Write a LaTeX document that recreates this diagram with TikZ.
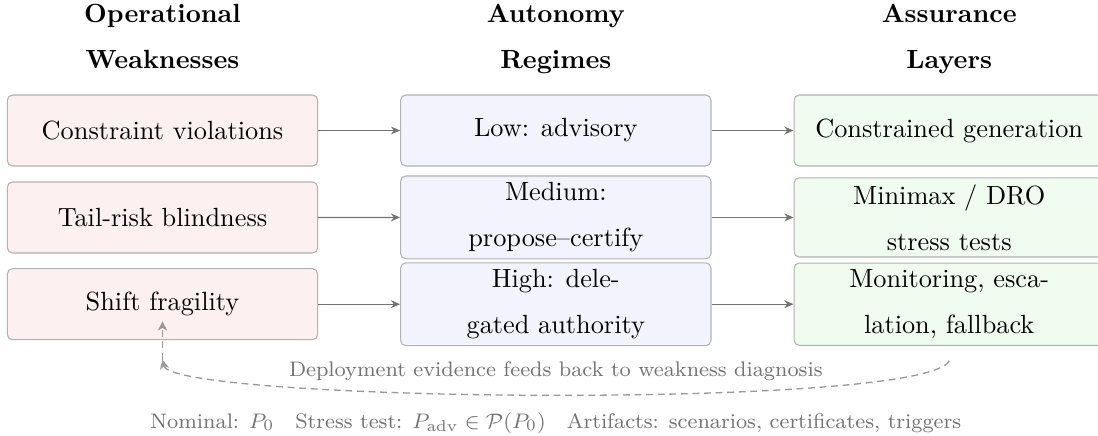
\documentclass[tikz,border=0pt]{standalone}
\usepackage{amsmath}
\usepackage{amssymb}
\usepackage{tikz}
\usetikzlibrary{arrows.meta}
\definecolor{weakfill}{RGB}{253,240,240}
\definecolor{regimefill}{RGB}{243,243,253}
\definecolor{layerfill}{RGB}{241,252,240}

\begin{document}
\begin{tikzpicture}[x=0.3802pt,y=-0.3802pt,
        box/.style={draw=black!30,rounded corners=2pt,minimum width=118pt,minimum height=27pt,inner ysep=2.5pt,align=center,font=\fontsize{10}{17.5}\selectfont},
        head/.style={align=center,text depth=1.94pt,font=\fontsize{10}{17.5}\selectfont\bfseries},
        link/.style={draw=black!55,line width=0.5pt,-{Stealth[length=3.5pt,width=3pt]}},
        feedback/.style={draw=black!40,line width=0.5pt,dash pattern=on 2.6pt off 1.8pt,-{Stealth[length=3.5pt,width=3.5pt,inset=1pt]}},
        note/.style={text=black!55,font=\footnotesize}]
                \useasboundingbox (0,0) rectangle (1098,435);
                \node[head] (hw) at (162.5,39.1) {Operational\\Weaknesses};
                \node[head] (hr) at (555.8,39.1) {Autonomy\\Regimes};
                \node[head] (hl) at (949.2,39.1) {Assurance\\Layers};
                \node[box,fill=weakfill] (w1) at (162.5,130.5) {Constraint violations};
                \node[box,fill=weakfill] (w2) at (162.5,217.5) {Tail-risk blindness};
                \node[box,fill=weakfill] (w3) at (162.5,304.2) {Shift fragility};
                \node[box,fill=regimefill] (r1) at (555.8,130.5) {Low: advisory};
                \node[box,fill=regimefill] (r2) at (555.8,217.4) {Medium:\\propose--certify};
                \node[box,fill=regimefill] (r3) at (555.8,304.2) {High: dele-\\gated authority};
                \node[box,fill=layerfill] (l1) at (949.2,130.5) {Constrained generation};
                \node[box,fill=layerfill] (l2) at (949.2,217.4) {Minimax / DRO\\stress tests};
                \node[box,fill=layerfill] (l3) at (949.2,304.2) {Monitoring, esca-\\lation, fallback};
                \foreach \i in {1,2,3} {
                    \draw[link] (w\i) -- (r\i);
                    \draw[link] (r\i) -- (l\i);
                }
                \coordinate (fbstart) at ([yshift=-5.7pt]l3.south);
                \coordinate (fbturn) at ([yshift=-7.4pt]w3.south);
                \coordinate (fbtip) at ([yshift=7.2pt]w3.south);
                \draw[feedback] (fbstart) .. controls (925,410) and (172,402) .. (fbturn);
                \draw[feedback] (fbturn) -- (fbtip);
                \node[note,anchor=base] (fbnote) at (555.8,376.5) {Deployment evidence feeds back to weakness diagnosis};
                \node[note,anchor=base] (legend) at (555.8,428) {Nominal: $P_0$\quad Stress test: $P_{\mathrm{adv}}\in\mathcal{P}(P_0)$\quad Artifacts: scenarios, certificates, triggers};
            \end{tikzpicture}
\end{document}
